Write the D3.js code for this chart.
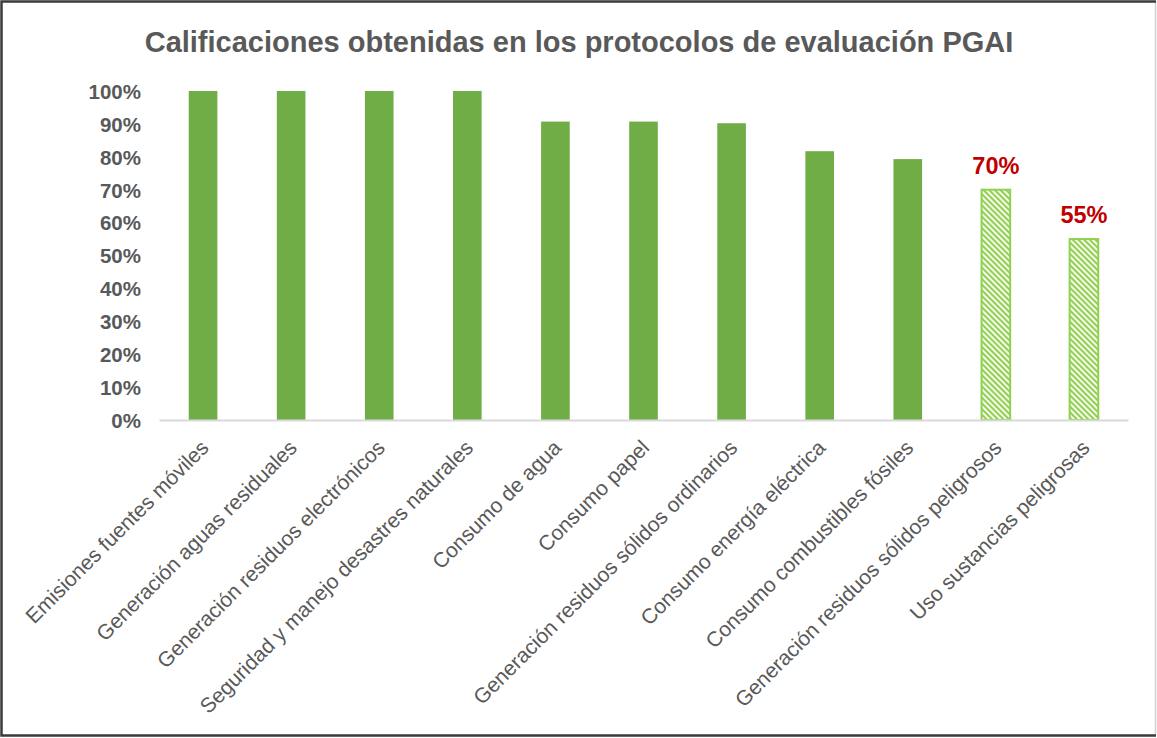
<!DOCTYPE html>
<html>
<head>
<meta charset="utf-8">
<script src="https://cdn.jsdelivr.net/npm/d3@7"></script>
<style>
  html, body { margin: 0; padding: 0; background: #ffffff; }
  svg { display: block; }
</style>
</head>
<body>
<svg id="chart" width="1157" height="738"></svg>
<script>
const title = "Calificaciones obtenidas en los protocolos de evaluación PGAI";
const categories = [
  "Emisiones fuentes móviles",
  "Generación aguas residuales",
  "Generación residuos electrónicos",
  "Seguridad y manejo desastres naturales",
  "Consumo de agua",
  "Consumo papel",
  "Generación residuos sólidos ordinarios",
  "Consumo energía eléctrica",
  "Consumo combustibles fósiles",
  "Generación residuos sólidos peligrosos",
  "Uso sustancias peligrosas"
];
const values = [1.00, 1.00, 1.00, 1.00, 0.907, 0.907, 0.902, 0.817, 0.793, 0.70, 0.55];
const highlighted = [false, false, false, false, false, false, false, false, false, true, true];
const yTicks = [0, 0.1, 0.2, 0.3, 0.4, 0.5, 0.6, 0.7, 0.8, 0.9, 1.0];

const svg = d3.select("#chart");
const W = 1157, H = 738;

// frame
svg.append("rect").attr("x", 0).attr("y", 0).attr("width", W).attr("height", H).attr("fill", "#fff");
svg.append("line").attr("x1", 1155.5).attr("x2", 1155.5).attr("y1", 2).attr("y2", 735).attr("stroke", "#d0d0d0").attr("stroke-width", 1.5);
svg.append("path").attr("d", `M1156,1.5 H1.5 V735.5 H1156`).attr("fill", "none").attr("stroke", "#3a3a3a").attr("stroke-width", 2.5);

const defs = svg.append("defs");
const pat = defs.append("pattern").attr("id", "hatch").attr("patternUnits", "userSpaceOnUse")
  .attr("width", 4).attr("height", 4).attr("patternTransform", "rotate(-45)");
pat.append("rect").attr("width", 4).attr("height", 4).attr("fill", "#ffffff");
pat.append("rect").attr("x", 0).attr("y", 0).attr("width", 2.2).attr("height", 4).attr("fill", "#92D050");

const x = d3.scaleBand().domain(categories).range([159, 1128]).paddingInner(0.675).paddingOuter(0.3375);
const y = d3.scaleLinear().domain([0, 1]).range([420, 91]);

// title
svg.append("text").attr("x", 579).attr("y", 52).attr("text-anchor", "middle")
  .attr("font-family", "Liberation Sans, Arial, sans-serif").attr("font-weight", "bold")
  .attr("font-size", 29).attr("fill", "#595959").text(title);

// y axis
const yAxis = d3.axisLeft(y).tickValues(yTicks).tickFormat(d3.format(".0%")).tickSize(0).tickPadding(0);
const gy = svg.append("g").attr("transform", "translate(141,0)").call(yAxis);
gy.select(".domain").remove();
gy.selectAll("text").attr("font-family", "Liberation Sans, Arial, sans-serif").attr("font-weight", "bold")
  .attr("font-size", 20.5).attr("fill", "#595959").attr("dy", "0.36em");

// bars
svg.append("g").selectAll("rect").data(categories).join("rect")
  .attr("x", d => x(d))
  .attr("y", (d, i) => y(values[i]))
  .attr("width", x.bandwidth())
  .attr("height", (d, i) => y(0) - y(values[i]))
  .attr("fill", (d, i) => highlighted[i] ? "url(#hatch)" : "#70AD47")
  .attr("stroke", (d, i) => highlighted[i] ? "#92D050" : "none")
  .attr("stroke-width", 2);

// x axis
const xAxis = d3.axisBottom(x).tickSize(0).tickPadding(0);
const gx = svg.append("g").attr("transform", "translate(0,420)").call(xAxis);
gx.select(".domain").attr("stroke", "#d9d9d9").attr("stroke-width", 2);
gx.selectAll("text")
  .attr("font-family", "Liberation Sans, Arial, sans-serif")
  .attr("font-size", 21).attr("fill", "#595959")
  .attr("text-anchor", "end")
  .attr("dy", null).attr("y", 0)
  .attr("transform", "translate(7,29) rotate(-45)");

// data labels for highlighted bars
svg.append("g").selectAll("text").data(categories.filter((d, i) => highlighted[i])).join("text")
  .attr("x", d => x(d) + x.bandwidth() / 2)
  .attr("y", d => y(values[categories.indexOf(d)]) - 16)
  .attr("text-anchor", "middle")
  .attr("font-family", "Liberation Sans, Arial, sans-serif").attr("font-weight", "bold")
  .attr("font-size", 23.5).attr("fill", "#C00000")
  .text(d => d3.format(".0%")(values[categories.indexOf(d)]));
</script>
</body>
</html>
